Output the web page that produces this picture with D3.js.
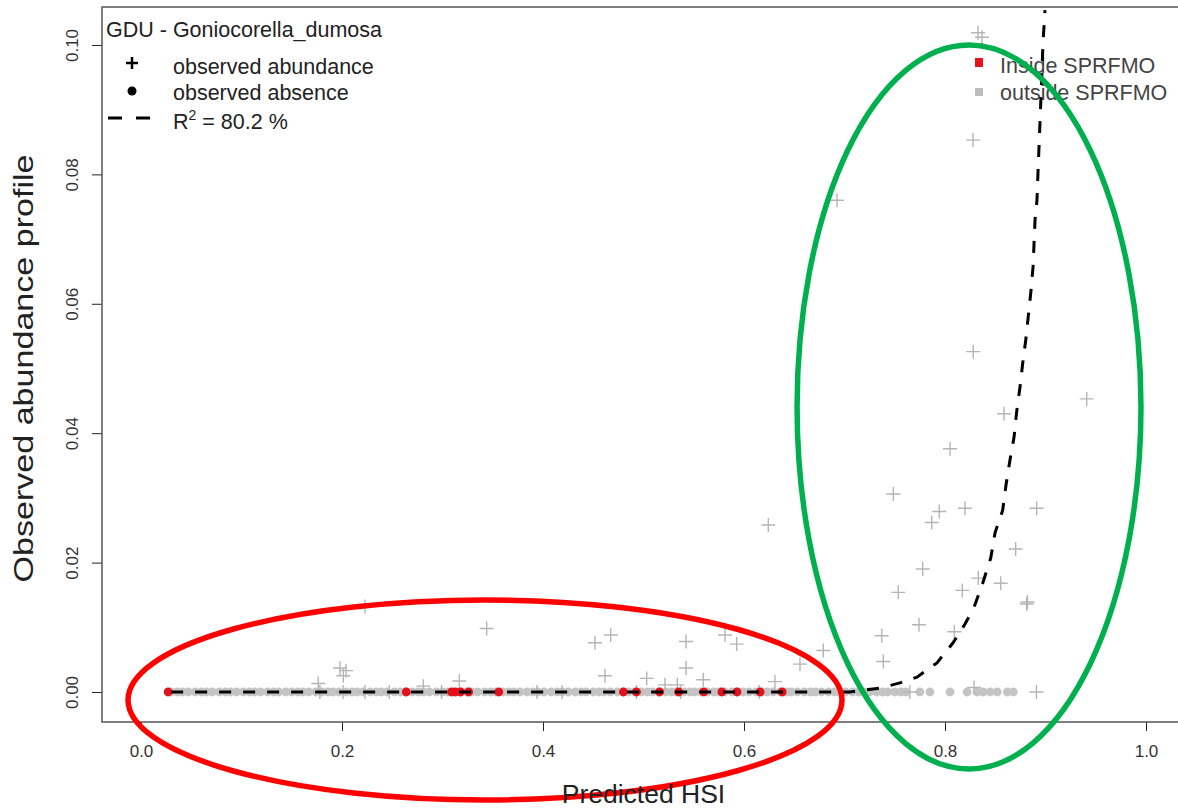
<!DOCTYPE html>
<html>
<head>
<meta charset="utf-8">
<script src="https://cdn.jsdelivr.net/npm/d3@7"></script>
<style>
  body { margin: 0; background: #fff; }
  svg { display: block; font-family: Arial, 'Liberation Sans', sans-serif; }
</style>
</head>
<body>
<div id="hsi_chart"></div>
<script>
// Observed absences (all at 0), predicted HSI
const absenceHSI = [0.030, 0.036, 0.041, 0.047, 0.054, 0.060, 0.065, 0.071, 0.078, 0.084, 0.089, 0.095,
  0.102, 0.108, 0.113, 0.119, 0.126, 0.132, 0.137, 0.144, 0.150, 0.156, 0.161, 0.167, 0.174, 0.180,
  0.186, 0.191, 0.197, 0.204, 0.210, 0.215, 0.221, 0.228, 0.234, 0.239, 0.245, 0.252, 0.258, 0.263,
  0.270, 0.276, 0.281, 0.287, 0.294, 0.300, 0.305, 0.311, 0.318, 0.324, 0.329, 0.335, 0.342, 0.348,
  0.353, 0.360, 0.366, 0.371, 0.377, 0.384, 0.390, 0.395, 0.401, 0.408, 0.414, 0.419, 0.425, 0.432,
  0.438, 0.443, 0.450, 0.456, 0.461, 0.467, 0.474, 0.480, 0.485, 0.491, 0.498, 0.504, 0.509, 0.515,
  0.522, 0.528, 0.533, 0.540, 0.546, 0.551, 0.557, 0.564, 0.570, 0.575, 0.581, 0.588, 0.594, 0.599,
  0.605, 0.612, 0.618, 0.623, 0.629, 0.636, 0.642, 0.647, 0.653, 0.660, 0.666, 0.671, 0.677, 0.684,
  0.690, 0.695, 0.701, 0.708, 0.714, 0.719, 0.725, 0.732, 0.738, 0.743, 0.750, 0.756, 0.761, 0.775,
  0.785, 0.805, 0.822, 0.832, 0.838, 0.845, 0.852, 0.862, 0.868]

// Absences inside SPRFMO
const insideHSI = [0.027, 0.264, 0.309, 0.313, 0.318, 0.326, 0.356, 0.480, 0.493, 0.516, 0.535,
  0.560, 0.578, 0.593, 0.616, 0.638]

// Observed abundance
const abundanceHSI = [0.8328, 0.8368, 0.8279, 0.6925, 0.8281, 0.9410, 0.8587, 0.8050, 0.7486, 0.7943,
  0.8199, 0.8912, 0.7868, 0.6242, 0.8703, 0.7778, 0.7535, 0.8172, 0.8331, 0.8554, 0.8813, 0.8820,
  0.7741, 0.8093, 0.7370, 0.7386, 0.6789, 0.6557, 0.6308, 0.4517, 0.4674, 0.5423, 0.5423, 0.5811,
  0.5927, 0.4617, 0.5032, 0.5595, 0.5214, 0.5336, 0.2229, 0.3440, 0.1980, 0.2040, 0.2013, 0.1764,
  0.2809, 0.3167, 0.8289, 0.178, 0.201, 0.223, 0.247, 0.299, 0.394, 0.419, 0.493, 0.537, 0.615,
  0.765, 0.891]
const abundanceObs = [0.1019, 0.1012, 0.0853, 0.0760, 0.0526, 0.0453, 0.0430, 0.0376, 0.0306, 0.0279,
  0.0284, 0.0284, 0.0262, 0.0258, 0.0221, 0.0190, 0.0154, 0.0157, 0.0176, 0.0168, 0.0136, 0.0139,
  0.0104, 0.0093, 0.0087, 0.0047, 0.0064, 0.0043, 0.0016, 0.0076, 0.0088, 0.0078, 0.0037, 0.0088,
  0.0074, 0.0025, 0.0021, 0.0019, 0.0011, 0.0011, 0.0132, 0.0098, 0.0037, 0.0033, 0.0025, 0.0013,
  0.0009, 0.0017, 0.0007, 0, 0, 0, 0, 0, 0, 0, 0, 0, 0,
  0, 0]

// Fitted profile (R2 = 80.2 %)
const fitHSI = [0.030, 0.556, 0.7055, 0.7353, 0.7552, 0.7721, 0.7920, 0.8080, 0.8199, 0.8289, 0.8375,
  0.8455, 0.8498, 0.8574, 0.8607, 0.8647, 0.8687, 0.8713, 0.8746, 0.8773, 0.8806, 0.8856, 0.8876,
  0.8896, 0.8915, 0.8925, 0.8945, 0.8965, 0.8975, 0.8995]
const fitObs = [0, 0, 0, 0.0006, 0.0014, 0.0023, 0.0045, 0.0076, 0.0105, 0.0131, 0.0168,
  0.0207, 0.0246, 0.0281, 0.0320, 0.0359, 0.0394, 0.0433, 0.0471, 0.0508, 0.0547, 0.0621, 0.0657,
  0.0730, 0.0760, 0.0802, 0.0879, 0.0961, 0.1003, 0.1054]

// Highlight ellipses (data units)
const highlightCx = [0.3423, 0.8239]
const highlightCy = [-0.00124, 0.04405]
const highlightRx = [0.3552, 0.1711]
const highlightRy = [0.01546, 0.05595]

const xTicks = [0, 0.2, 0.4, 0.6, 0.8, 1.0]
const yTicks = [0, 0.02, 0.04, 0.06, 0.08, 0.10]
const xLimits = [-0.0388, 1.0398]
const yLimits = [-0.00464, 0.10587]

;(() => {
  // Vars for dimensions
  const margin = { top: 7, left: 102 }
  const width = 1178
  const height = 810
  const innerWidth = 1084
  const innerHeight = 715

  const svg = d3.select('#hsi_chart')
    .append('svg')
    .attr('width', width)
    .attr('height', height)

  const g = svg.append('g')
    .attr('transform', `translate(${margin.left}, ${margin.top})`)

  // Scales
  const x = d3.scaleLinear().domain(xLimits).range([0, innerWidth])
  const y = d3.scaleLinear().domain(yLimits).range([innerHeight, 0])

  g.append('clipPath').attr('id', 'plot_clip')
    .append('rect')
    .attr('width', innerWidth)
    .attr('height', innerHeight)

  // Bottom axis
  const xAxis = g.append('g')
    .attr('transform', `translate(0, ${innerHeight})`)
    .call(d3.axisBottom(x).tickValues(xTicks).tickSize(9).tickPadding(14).tickFormat(d3.format('.1f')))
  xAxis.select('.domain').remove()
  xAxis.selectAll('line').attr('stroke', '#222')
  xAxis.selectAll('text')
    .attr('font-size', 17)
    .attr('fill', '#333')
    .attr('font-family', 'Arial, Liberation Sans, sans-serif')

  // Left axis, labels rotated like R
  const yAxis = g.append('g')
    .call(d3.axisLeft(y).tickValues(yTicks).tickSize(10).tickFormat(d3.format('.2f')))
  yAxis.select('.domain').remove()
  yAxis.selectAll('line').attr('stroke', '#222')
  yAxis.selectAll('text')
    .attr('font-size', 17)
    .attr('fill', '#333')
    .attr('font-family', 'Arial, Liberation Sans, sans-serif')
    .attr('x', null)
    .attr('dy', null)
    .attr('text-anchor', 'middle')
    .attr('transform', 'translate(-24, 0) rotate(-90)')

  // Plot box
  g.append('rect')
    .attr('width', innerWidth)
    .attr('height', innerHeight)
    .attr('fill', 'none')
    .attr('stroke', '#555')
    .attr('stroke-width', 1.5)

  // Axis titles
  svg.append('text')
    .attr('x', margin.left + x(0.5))
    .attr('y', 803)
    .attr('text-anchor', 'middle')
    .attr('font-size', 26.5)
    .attr('fill', '#222')
    .text('Predicted HSI')

  // the y title is stretched in the original image
  svg.append('text')
    .attr('transform', `translate(33, ${margin.top + y(0.05)}) rotate(-90)`)
    .attr('text-anchor', 'middle')
    .attr('font-size', 28)
    .attr('textLength', 428)
    .attr('lengthAdjust', 'spacingAndGlyphs')
    .attr('fill', '#222')
    .text('Observed abundance profile')

  // Legend top-left
  const leg = g.append('g')
  leg.append('text').attr('x', 4).attr('y', 30).attr('font-size', 21.5).attr('fill', '#222')
    .text('GDU - Goniocorella_dumosa')
  leg.append('path').attr('d', 'M24,56H36M30,50V62').attr('stroke', '#000').attr('stroke-width', 2.5)
  leg.append('circle').attr('cx', 30).attr('cy', 84).attr('r', 4.5).attr('fill', '#000')
  leg.append('path').attr('d', 'M6,111H48').attr('stroke', '#000').attr('stroke-width', 3)
    .attr('stroke-dasharray', '14,14')
  leg.append('text').attr('x', 71).attr('y', 67).attr('font-size', 21.5).attr('fill', '#222')
    .text('observed abundance')
  leg.append('text').attr('x', 71).attr('y', 93).attr('font-size', 21.5).attr('fill', '#222')
    .text('observed absence')
  const r2 = leg.append('text').attr('x', 71).attr('y', 122).attr('font-size', 21.5).attr('fill', '#222')
  r2.append('tspan').text('R')
  r2.append('tspan').attr('dy', -9).attr('font-size', 14).text('2')
  r2.append('tspan').attr('dy', 9).text(' = 80.2 %')

  // Legend top-right
  const leg2 = g.append('g').attr('transform', 'translate(877, 0)')
  leg2.append('rect').attr('x', -4).attr('y', 51).attr('width', 8).attr('height', 9).attr('fill', '#e8141c')
  leg2.append('rect').attr('x', -4).attr('y', 81).attr('width', 8).attr('height', 8).attr('fill', '#bdbdbd')
  leg2.append('text').attr('x', 21).attr('y', 66).attr('font-size', 21.5).attr('fill', '#444')
    .text('Inside SPRFMO')
  leg2.append('text').attr('x', 21).attr('y', 93).attr('font-size', 21.5).attr('fill', '#444')
    .text('outside SPRFMO')

  const plot = g.append('g').attr('clip-path', 'url(#plot_clip)')

  // Observed absences (grey band)
  plot.selectAll('.absence')
    .data(absenceHSI)
    .join('circle')
    .attr('class', 'absence')
    .attr('cx', d => x(d))
    .attr('cy', y(0))
    .attr('r', 4.4)
    .attr('fill', '#c4c4c4')

  // Observed abundance crosses
  plot.selectAll('.abundance')
    .data(abundanceHSI.map((h, i) => ({ h, v: abundanceObs[i] })))
    .join('path')
    .attr('class', 'abundance')
    .attr('transform', d => `translate(${x(d.h)}, ${y(d.v)})`)
    .attr('d', 'M-7,0H7M0,-7V7')
    .attr('stroke', '#b5b5b5')
    .attr('stroke-width', 1.4)
    .attr('fill', 'none')

  // Inside SPRFMO points
  plot.selectAll('.inside')
    .data(insideHSI)
    .join('circle')
    .attr('class', 'inside')
    .attr('cx', d => x(d))
    .attr('cy', y(0))
    .attr('r', 4.4)
    .attr('fill', '#e3121a')

  // Fitted profile line
  const fitLine = d3.line()
    .x(d => x(d[0]))
    .y(d => y(d[1]))

  plot.append('path')
    .datum(fitHSI.map((h, i) => [h, fitObs[i]]))
    .attr('fill', 'none')
    .attr('stroke', '#000')
    .attr('stroke-width', 3)
    .attr('stroke-dasharray', '12,12')
    .attr('d', fitLine)

  // Highlight ellipses
  const hl = highlightCx.map((c, i) => ({ cx: c, cy: highlightCy[i], rx: highlightRx[i], ry: highlightRy[i] }))
  g.selectAll('.highlight')
    .data(hl)
    .join('ellipse')
    .attr('class', 'highlight')
    .attr('cx', d => x(d.cx))
    .attr('cy', d => y(d.cy))
    .attr('rx', d => x(d.cx + d.rx) - x(d.cx))
    .attr('ry', d => y(d.cy - d.ry) - y(d.cy))
    .attr('fill', 'none')
    .attr('stroke', (d, i) => i === 0 ? '#ff0000' : '#00b04f')
    .attr('stroke-width', 5.5)
})()
</script>
</body>
</html>
